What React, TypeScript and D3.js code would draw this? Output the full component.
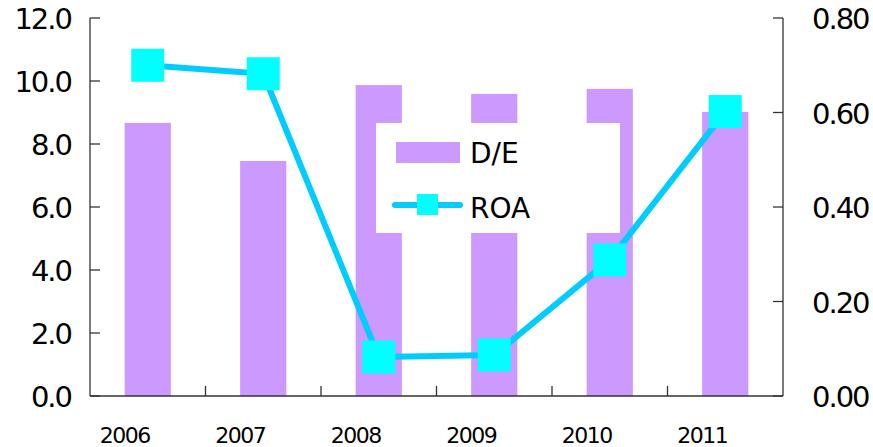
import React from 'react';
import * as d3 from 'd3';

const years = ['2006', '2007', '2008', '2009', '2010', '2011'];
const debtEquity = [8.67, 7.46, 9.87, 9.59, 9.75, 9.02];
const roa = [0.70, 0.682, 0.0825, 0.087, 0.288, 0.602];
const leftTicks = [0, 2, 4, 6, 8, 10, 12];
const rightTicks = [0, 0.2, 0.4, 0.6, 0.8];

const App = () => {
    const width = 873;
    const height = 447;
    const margin = {t: 18, b: 51, l: 90, r: 90};
    const font = "'DejaVu Sans', sans-serif";

    // x band scale, one slot per year
    const x = d3.scaleBand()
        .domain(years)
        .range([margin.l, width - margin.r])
        .paddingInner(0.6)
        .paddingOuter(0.3);
    const slot = d3.scaleBand().domain(years).range([margin.l, width - margin.r]);
    const mid = (d: string) => slot(d)! + slot.bandwidth() / 2;

    const yL = d3.scaleLinear().domain([0, 12]).range([height - margin.b, margin.t]);
    const yR = d3.scaleLinear().domain([0, 0.8]).range([height - margin.b, margin.t]);

    const line = d3.line<number>()
        .x((d, i) => mid(years[i]))
        .y(d => yR(d));

    const axisColor = '#333';
    const bottom = height - margin.b;
    const right = width - margin.r;
    const ms = 33;

    return (
        <div style={{position: 'absolute', left: 0, top: 0}}>
            <svg width={width} height={height} style={{display: 'block', background: '#fff'}}>
                {/* bars */}
                {debtEquity.map((v, i) => (
                    <rect key={years[i]} x={x(years[i])} y={yL(v)} width={x.bandwidth()}
                          height={bottom - yL(v)} fill="#CC99FF"/>
                ))}

                {/* axes */}
                <line x1={margin.l} x2={margin.l} y1={margin.t} y2={bottom} stroke={axisColor} strokeWidth={1.3}/>
                <line x1={right} x2={right} y1={margin.t} y2={bottom} stroke={axisColor} strokeWidth={1.3}/>
                <line x1={margin.l} x2={right} y1={bottom} y2={bottom} stroke={axisColor} strokeWidth={1.3}/>

                {leftTicks.map(d => (
                    <g key={'l' + d} transform={`translate(${margin.l},${yL(d)})`}>
                        <line x1={0} x2={10} stroke={axisColor} strokeWidth={1.3}/>
                        <text x={-19} y={11} textAnchor="end" fontFamily={font} fontSize={29}
                              letterSpacing={-2} fill="#000">{d.toFixed(1)}</text>
                    </g>
                ))}
                {rightTicks.map(d => (
                    <g key={'r' + d} transform={`translate(${right},${yR(d)})`}>
                        <line x1={-10} x2={0} stroke={axisColor} strokeWidth={1.3}/>
                        <text x={29} y={11} fontFamily={font} fontSize={29}
                              letterSpacing={-2} fill="#000">{d.toFixed(2)}</text>
                    </g>
                ))}
                {years.map((d, i) => (
                    <g key={'x' + d}>
                        {i > 0 ? <line x1={slot(d)} x2={slot(d)} y1={bottom - 10} y2={bottom}
                                       stroke={axisColor} strokeWidth={1.3}/> : null}
                        <text x={mid(d) - 23} y={443} textAnchor="middle"
                              fontFamily={font} fontSize={22} letterSpacing={-1.5} fill="#000">{d}</text>
                    </g>
                ))}

                {/* ROA line */}
                <path d={line(roa)!} fill="none" stroke="#00CCFF" strokeWidth={6} strokeLinejoin="round"/>
                {roa.map((v, i) => (
                    <rect key={'m' + i} x={mid(years[i]) - ms / 2} y={yR(v) - ms / 2}
                          width={ms} height={ms} fill="#00FFFF"/>
                ))}

                {/* legend */}
                <rect x={376} y={123} width={244} height={110} fill="#fff"/>
                <rect x={396} y={142} width={64} height={21} fill="#CC99FF"/>
                <text x={470} y={163} fontFamily={font} fontSize={28} fill="#000">D/E</text>
                <line x1={395} x2={460} y1={205} y2={205} stroke="#00CCFF" strokeWidth={6} strokeLinecap="round"/>
                <rect x={417} y={194} width={21} height={21} fill="#00FFFF"/>
                <text x={470} y={218} fontFamily={font} fontSize={28} fill="#000">ROA</text>
            </svg>
        </div>
    );
};

export default App;
